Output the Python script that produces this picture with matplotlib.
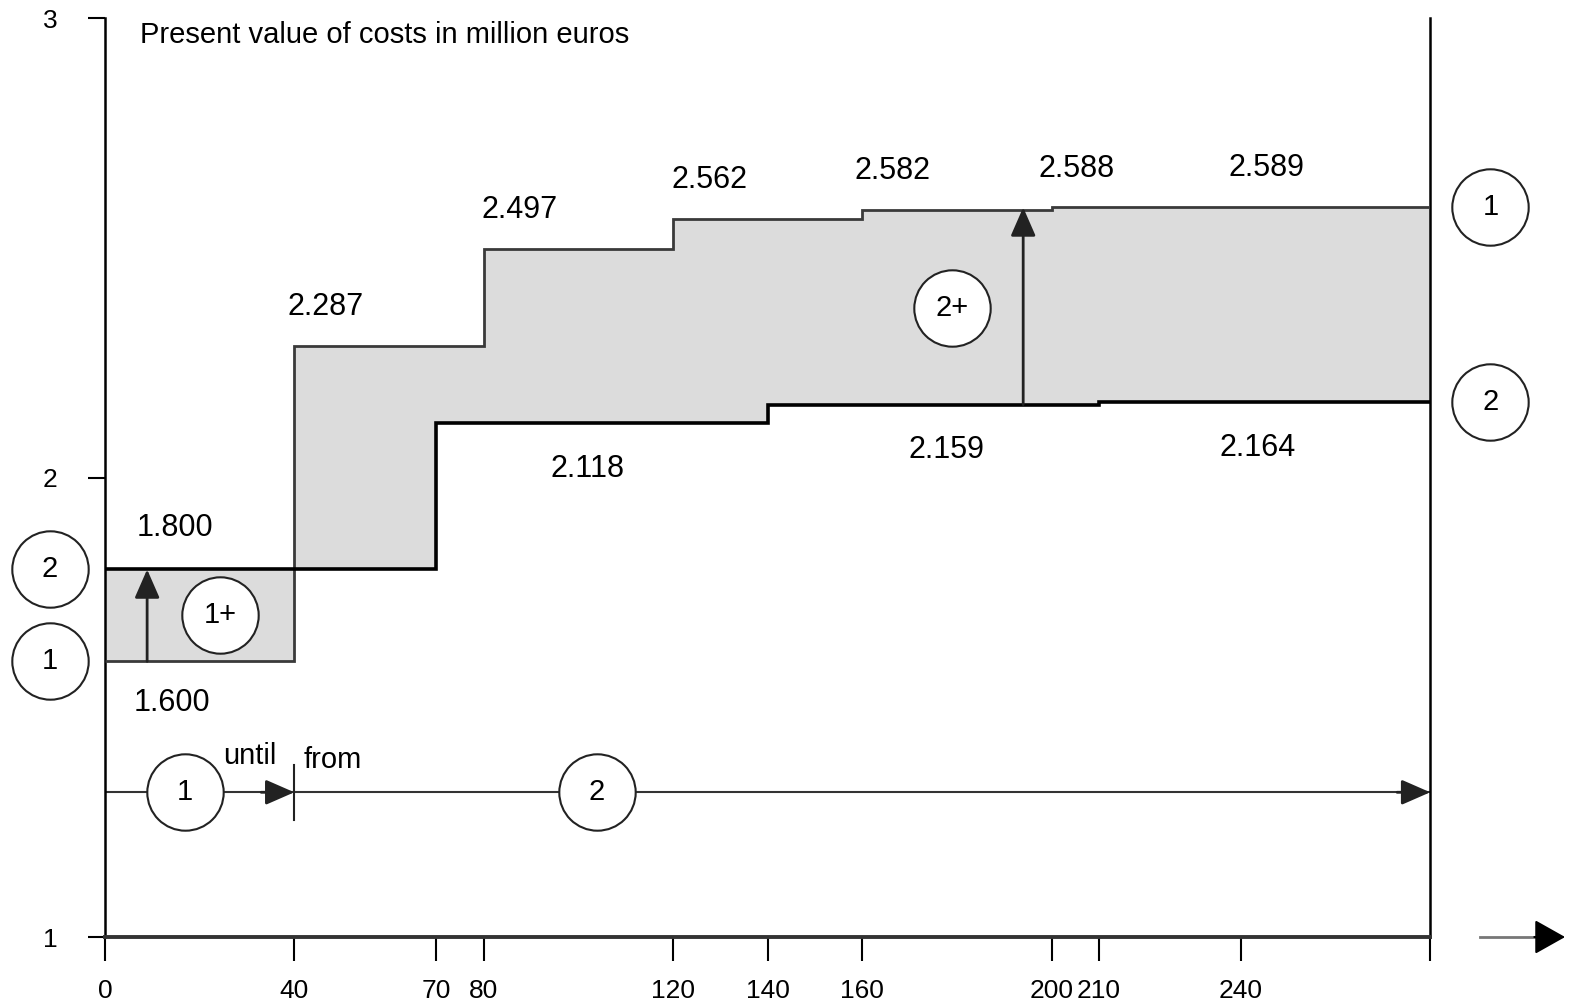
import numpy as np
import matplotlib
matplotlib.use("Agg")
import matplotlib.pyplot as plt

plt.rcParams['font.family'] = ['Liberation Sans', 'DejaVu Sans']

# step edges (months) and present value of costs (million euros)
edges_1 = [0, 40, 80, 120, 160, 200, 240, 280]
costs_1 = [1.600, 2.287, 2.497, 2.562, 2.582, 2.588, 2.589]
edges_2 = [0, 70, 140, 210, 280]
costs_2 = [1.800, 2.118, 2.159, 2.164]

xticks = [0, 40, 70, 80, 120, 140, 160, 200, 210, 240, 280]
xticklabels = ['0', '40', '70', '80', '120', '140', '160', '200', '210', '240', '']
yticks = [1, 2, 3]

# where the value labels sit along x
label_x_1 = [14.1, 46.5, 87.6, 127.8, 166.4, 205.3, 245.4]
label_x_2 = [14.8, 102.0, 177.8, 243.5]


def step_value(edges, vals, x):
    idx = np.searchsorted(edges, x, side='right') - 1
    idx = np.clip(idx, 0, len(vals) - 1)
    return np.array(vals)[idx]


fig = plt.figure(figsize=(15.72, 10.07), dpi=100)
ax = fig.add_axes([0.0668, 0.0695, 0.843, 0.9125])
ax.set_xlim(0, 280)
ax.set_ylim(1, 3)

# shaded gap between the two alternatives
grid = np.array(sorted(set(edges_1) | set(edges_2)))
y1 = step_value(edges_1, costs_1, grid)
y2 = step_value(edges_2, costs_2, grid)
ax.fill_between(grid, y1, y2, step='post', color='#dcdcdc', lw=0, zorder=1)

ax.stairs(costs_1, edges_1, baseline=None, color='#3a3a3a', lw=2.0, zorder=3)
ax.stairs(costs_2, edges_2, baseline=None, color='black', lw=2.6, zorder=3)

# value labels
for i, v in enumerate(costs_1):
    dy = -30 if i == 0 else 28
    ax.annotate(f'{v:.3f}', (label_x_1[i], v), xytext=(0, dy), textcoords='offset points',
                ha='center', va='center', fontsize=22)
for i, v in enumerate(costs_2):
    dy = 30 if i == 0 else -33
    ax.annotate(f'{v:.3f}', (label_x_2[i], v), xytext=(0, dy), textcoords='offset points',
                ha='center', va='center', fontsize=22)

# vertical arrows showing the extra cost
arrow_kw = dict(arrowstyle='-|>,head_length=0.8,head_width=0.35', color='#222222',
                lw=2.0, mutation_scale=22, shrinkA=0, shrinkB=0)
ax.annotate('', xy=(8.9, costs_2[0]), xytext=(8.9, costs_1[0]), arrowprops=arrow_kw, zorder=4)
ax.annotate('', xy=(194, costs_1[5]), xytext=(194, costs_2[2]), arrowprops=arrow_kw, zorder=4)

# timeline at the bottom
line_y = 1.315
ax.plot([0, 280], [line_y, line_y], color='#333333', lw=1.5, zorder=2)
ax.annotate('', xy=(40, line_y), xytext=(33, line_y), arrowprops=arrow_kw, zorder=4)
ax.annotate('', xy=(280, line_y), xytext=(273, line_y), arrowprops=arrow_kw, zorder=4)
ax.plot([40, 40], [1.255, 1.375], color='#222222', lw=1.5, zorder=4)
ax.text(25.0, 1.395, 'until', fontsize=21, ha='left', va='center')
ax.text(42.0, 1.385, 'from', fontsize=21, ha='left', va='center')

# numbered circles
circles = [
    (-11.6, costs_1[0], '1'), (-11.6, costs_2[0], '2'),
    (292.7, costs_1[-1], '1'), (292.7, costs_2[-1], '2'),
    (24.3, 1.70, '1+'), (178.9, 2.37, '2+'),
    (16.9, line_y, '1'), (103.9, line_y, '2'),
]
for cx, cy, txt in circles:
    ax.plot(cx, cy, 'o', ms=55, mfc='white', mec='#222222', mew=1.5, clip_on=False, zorder=5)
    ax.text(cx, cy, txt, fontsize=21, ha='center', va='center', zorder=6)

ax.text(7.4, 2.963, 'Present value of costs in million euros', fontsize=21, ha='left', va='center')

# axis arrow at far right
ax.plot([290.5, 304], [1, 1], color='#777777', lw=2.0, clip_on=False)
ax.annotate('', xy=(308.5, 1), xytext=(302, 1), annotation_clip=False,
            arrowprops=dict(arrowstyle='-|>,head_length=0.8,head_width=0.45', color='black',
                            lw=1.5, mutation_scale=24, shrinkA=0, shrinkB=0))

ax.spines['top'].set_visible(False)
ax.spines['left'].set_linewidth(1.8)
ax.spines['right'].set_linewidth(1.8)
ax.spines['bottom'].set_linewidth(2.8)
ax.spines['bottom'].set_color('#333333')

ax.set_xticks(xticks)
ax.set_xticklabels(xticklabels, fontsize=19)
ax.set_yticks(yticks)
ax.set_yticklabels([str(t) for t in yticks], fontsize=19)
ax.tick_params(axis='x', direction='out', length=17, width=1.5, pad=13)
ax.tick_params(axis='y', direction='out', length=12, width=1.5, pad=22)

fig.savefig('out.png', dpi=100)
